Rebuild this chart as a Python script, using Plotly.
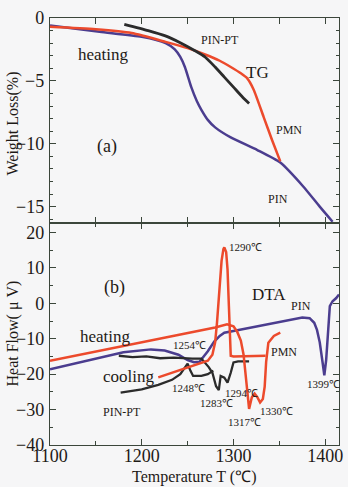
import plotly.graph_objects as go
from plotly.subplots import make_subplots

# ---------------- (a) TG data ----------------
pin_tg_T = [1100, 1154, 1200, 1226, 1236, 1242, 1247, 1254, 1260, 1265, 1272, 1280, 1297, 1326, 1351, 1376, 1394, 1408]
pin_tg_V = [-0.6, -1.1, -1.5, -2.0, -2.5, -3.1, -3.9, -5.5, -6.6, -7.3, -8.1, -8.7, -9.5, -10.5, -11.5, -13.4, -15.0, -16.2]

pmn_tg_T = [1100, 1150, 1189, 1226, 1250, 1269, 1285, 1297, 1308, 1315, 1322, 1333, 1342, 1351]
pmn_tg_V = [-0.7, -0.9, -1.2, -1.9, -2.4, -2.9, -3.4, -3.9, -4.4, -4.8, -5.7, -7.9, -9.7, -11.4]

pinpt_tg_T = [1181, 1207, 1225, 1243, 1258, 1269, 1280, 1290, 1300, 1310, 1317]
pinpt_tg_V = [-0.5, -1.0, -1.4, -2.0, -2.6, -3.1, -3.9, -4.7, -5.5, -6.3, -6.8]

# ---------------- (b) DTA data ----------------
pin_dta_T = [1100, 1150, 1180, 1210, 1225, 1240, 1250, 1257, 1263, 1272, 1279, 1285, 1290, 1300, 1320, 1350,
             1375, 1383, 1388, 1391, 1394, 1397, 1399, 1401, 1403, 1405, 1408, 1412, 1415]
pin_dta_V = [-18.6, -15.5, -13.8, -13.0, -13.3, -14.5, -16.0, -16.6, -16.5, -13.5, -10.8, -9.2, -8.3, -7.8, -6.8, -5.2,
             -4.0, -4.2, -5.5, -7.5, -11.0, -16.5, -20.3, -16.0, -8.3, -0.8, 0.6, 1.5, 2.5]

pmn_heat_T = [1100, 1150, 1200, 1250, 1280, 1293, 1300, 1304, 1308, 1311, 1313, 1315, 1317, 1320, 1323, 1326,
              1329, 1332, 1334, 1335.6, 1338, 1344, 1351]
pmn_heat_V = [-16.2, -13.6, -11.0, -8.4, -6.8, -5.9, -6.5, -8.0, -10.5, -14.5, -19.5, -24.5, -29.8, -26.5, -25.5, -26.5,
              -28.0, -27.0, -23.5, -16.5, -11.1, -9.2, -8.3]

pmn_cool_T = [1218, 1240, 1260, 1272, 1277, 1280, 1282, 1285, 1287, 1289, 1290, 1292, 1293.5, 1295, 1296, 1297, 1300, 1320, 1335]
pmn_cool_V = [-20.9, -19.0, -17.4, -16.2, -14.5, -11.0, -5.5, 4.0, 12.0, 15.3, 15.8, 14.5, 9.6, -0.8, -8.0, -14.8, -15.0, -14.9, -14.8]

pinpt_heat_T = [1175, 1190, 1205, 1220, 1235, 1245, 1255, 1265, 1269, 1273, 1277, 1281, 1284, 1286, 1290, 1293.5, 1297, 1300, 1305, 1317]
pinpt_heat_V = [-14.8, -15.2, -15.0, -15.5, -15.3, -15.5, -15.6, -15.6, -16.7, -18.0, -19.6, -23.4, -24.5, -20.5, -21.0, -22.4, -19.6, -16.7, -16.4, -16.4]

pinpt_cool_T = [1177, 1200, 1218, 1233, 1242, 1247, 1250, 1253, 1256, 1265, 1272, 1278]
pinpt_cool_V = [-25.2, -24.3, -23.0, -21.6, -20.0, -18.0, -17.0, -19.0, -20.5, -20.5, -20.0, -19.0]

RED = "#ec4a2c"
BLUE = "#4b3d8f"
BLACK = "#2b2b2b"
TXT = "#1e1a16"
AX = "#3b463b"
FONT = "Liberation Serif"

fig = make_subplots(rows=2, cols=1, shared_xaxes=False, vertical_spacing=0.0,
                    row_heights=[0.48, 0.52])

# top panel
fig.add_trace(go.Scatter(x=pin_tg_T, y=pin_tg_V, mode="lines", line=dict(color=BLUE, width=2.5, shape="spline", smoothing=0.6)), row=1, col=1)
fig.add_trace(go.Scatter(x=pmn_tg_T, y=pmn_tg_V, mode="lines", line=dict(color=RED, width=2.5, shape="spline", smoothing=0.6)), row=1, col=1)
fig.add_trace(go.Scatter(x=pinpt_tg_T, y=pinpt_tg_V, mode="lines", line=dict(color=BLACK, width=2.8, shape="spline", smoothing=0.6)), row=1, col=1)

# bottom panel
fig.add_trace(go.Scatter(x=pin_dta_T, y=pin_dta_V, mode="lines", line=dict(color=BLUE, width=2.5)), row=2, col=1)
fig.add_trace(go.Scatter(x=pinpt_heat_T, y=pinpt_heat_V, mode="lines", line=dict(color=BLACK, width=2.3)), row=2, col=1)
fig.add_trace(go.Scatter(x=pinpt_cool_T, y=pinpt_cool_V, mode="lines", line=dict(color=BLACK, width=2.3)), row=2, col=1)
fig.add_trace(go.Scatter(x=pmn_heat_T, y=pmn_heat_V, mode="lines", line=dict(color=RED, width=2.5)), row=2, col=1)
fig.add_trace(go.Scatter(x=pmn_cool_T, y=pmn_cool_V, mode="lines", line=dict(color=RED, width=2.5)), row=2, col=1)

axis_common = dict(showline=True, linecolor=AX, linewidth=1.3, mirror="ticks", ticks="inside",
                   tickcolor=AX, showgrid=False, zeroline=False,
                   tickfont=dict(family=FONT, size=18, color=TXT))

fig.update_xaxes(range=[1100, 1415], tickvals=[1100, 1200, 1300, 1400], ticklen=6,
                 minor=dict(tickvals=[1150, 1250, 1350], ticklen=4, ticks="inside", tickcolor=AX),
                 **axis_common)
fig.update_xaxes(showticklabels=False, tickvals=[1150, 1200, 1250, 1300, 1350, 1400], row=1, col=1)
fig.update_xaxes(ticklabelstandoff=-6, row=2, col=1)

fig.update_yaxes(range=[-16.3, 0], tickvals=[0, -5, -10, -15], ticklen=6, ticklabelstandoff=1,
                 minor=dict(dtick=1, ticklen=3, ticks="inside", tickcolor=AX),
                 row=1, col=1, **axis_common)
fig.update_yaxes(range=[-40, 22.7], tickvals=[20, 10, 0, -10, -20, -30, -40], ticklen=6, ticklabelstandoff=1,
                 minor=dict(dtick=5, ticklen=3, ticks="inside", tickcolor=AX),
                 row=2, col=1, **axis_common)

def ann(x, y, text, size, xref="x", yref="y"):
    fig.add_annotation(x=x, y=y, xref=xref, yref=yref, text=text, showarrow=False,
                       font=dict(family=FONT, size=size, color=TXT))

# (a) labels
ann(1158, -2.9, "heating", 17)
ann(1285, -1.75, "PIN-PT", 12)
ann(1326, -4.3, "TG", 17)
ann(1360, -8.9, "PMN", 12)
ann(1349, -14.4, "PIN", 12)
ann(1162, -10.2, "(a)", 18)

# (b) labels
ann(1170, 4.5, "(b)", 18, "x2", "y2")
ann(1339, 2.5, "DTA", 17, "x2", "y2")
ann(1374, -0.8, "PIN", 12, "x2", "y2")
ann(1161, -9.3, "heating", 17, "x2", "y2")
ann(1186, -20.6, "cooling", 17, "x2", "y2")
ann(1179, -30.8, "PIN-PT", 12, "x2", "y2")
ann(1313, 15.8, "1290℃", 11, "x2", "y2")
ann(1252, -11.9, "1254℃", 11, "x2", "y2")
ann(1355, -13.6, "PMN", 12, "x2", "y2")
ann(1250.5, -24.0, "1248℃", 11, "x2", "y2")
ann(1282, -28.0, "1283℃", 11, "x2", "y2")
ann(1309, -25.2, "1294℃", 11, "x2", "y2")
ann(1312, -33.6, "1317℃", 11, "x2", "y2")
ann(1347, -30.5, "1330℃", 11, "x2", "y2")
ann(1398, -22.9, "1399℃", 11, "x2", "y2")

# axis titles
fig.add_annotation(x=12, y=124, xref="paper", yref="paper", text="Weight Loss(%)", showarrow=False,
                   textangle=-90, font=dict(family=FONT, size=16, color=TXT))
fig.add_annotation(x=12, y=334, xref="paper", yref="paper", text="Heat Flow( μ V)", showarrow=False,
                   textangle=-90, font=dict(family=FONT, size=16, color=TXT))
fig.add_annotation(x=196, y=477, xref="paper", yref="paper", text="Temperature T (℃)", showarrow=False,
                   font=dict(family=FONT, size=16, color=TXT))

# convert pixel positions of the last three annotations into paper coordinates
L, R, T, B = 50, 5, 18, 42
W, H = 348, 487
pw, ph = W - L - R, H - T - B
for a in fig.layout.annotations[-3:]:
    px, py = a.x, a.y
    a.x = (px - L) / pw
    a.y = (H - B - py) / ph
    a.xanchor = "center"
    a.yanchor = "middle"

fig.update_layout(width=W, height=H, margin=dict(l=L, r=R, t=T, b=B),
                  paper_bgcolor="#f6f6f7", plot_bgcolor="#f6f6f7", showlegend=False)

fig.write_html("out.html")
